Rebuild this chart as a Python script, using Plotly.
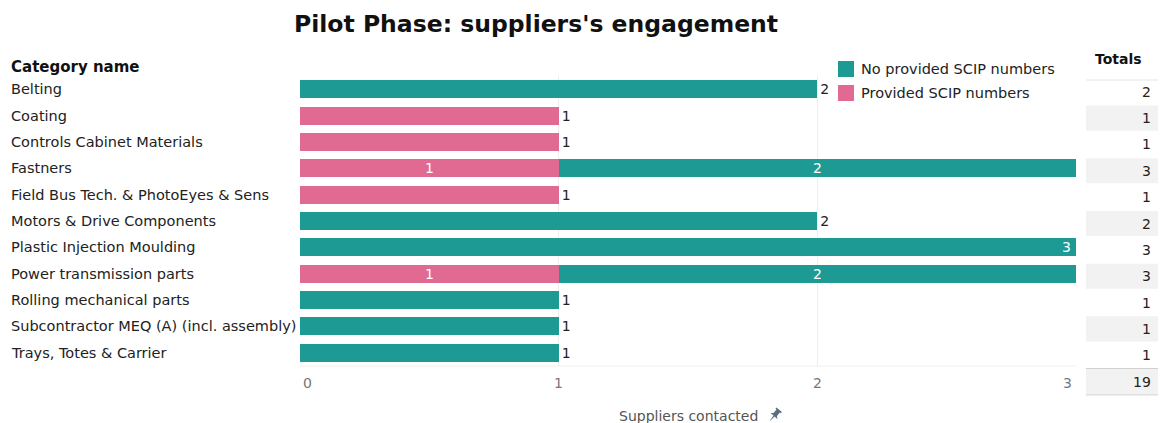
import math
import plotly.graph_objects as go

# ---- data ---------------------------------------------------------------
categories = [
    "Belting",
    "Coating",
    "Controls Cabinet Materials",
    "Fastners",
    "Field Bus Tech. & PhotoEyes & Sens",
    "Motors & Drive Components",
    "Plastic Injection Moulding",
    "Power transmission parts",
    "Rolling mechanical parts",
    "Subcontractor MEQ (A) (incl. assembly)",
    "Trays, Totes & Carrier",
]
provided_scip = [0, 1, 1, 1, 1, 0, 0, 1, 0, 0, 0]
no_provided_scip = [2, 0, 0, 2, 0, 2, 3, 2, 1, 1, 1]
x_ticks = [0, 1, 2, 3]

TEAL = "#1d9a93"
PINK = "#e06a91"
FONT = "DejaVu Sans"
TEXT = "#222222"

W, H = 1161, 423
L, R, T, B = 300, 1076, 76, 366  # plot area in pixels
x_max = max(x_ticks)
n = len(categories)
totals = [a + b for a, b in zip(provided_scip, no_provided_scip)]


def px(x):
    return (x - L) / (R - L)


def py(y):
    return (B - y) / (B - T)


def row_y(i):
    return T + (B - T) * (i + 0.5) / n


# stacked rows get centred labels inside, single bars get them outside
def positions(vals, other):
    pos = []
    for v, o in zip(vals, other):
        if v == 0:
            pos.append("none")
        elif o > 0:
            pos.append("inside")
        else:
            pos.append("outside")
    return pos


fig = go.Figure()
fig.add_trace(go.Bar(
    y=categories, x=provided_scip, orientation="h", name="Provided SCIP numbers",
    marker=dict(color=PINK, line=dict(width=0)),
    text=[str(v) if v else "" for v in provided_scip],
    textposition=positions(provided_scip, no_provided_scip),
    textangle=0, insidetextanchor="middle", constraintext="none",
    insidetextfont=dict(color="white", size=14, family=FONT),
    outsidetextfont=dict(color=TEXT, size=14, family=FONT),
    hoverinfo="x+y", showlegend=False,
))

# bars that run to the end of the axis get their label at the tip instead
teal_text, teal_pos = [], []
for v, o in zip(no_provided_scip, provided_scip):
    if v == 0 or (o == 0 and v >= x_max):
        teal_text.append("")
        teal_pos.append("none")
    else:
        teal_text.append(str(v))
        teal_pos.append("inside" if o > 0 else "outside")

fig.add_trace(go.Bar(
    y=categories, x=no_provided_scip, orientation="h", name="No provided SCIP numbers",
    marker=dict(color=TEAL, line=dict(width=0)),
    text=teal_text, textposition=teal_pos,
    textangle=0, insidetextanchor="middle", constraintext="none",
    insidetextfont=dict(color="white", size=14, family=FONT),
    outsidetextfont=dict(color=TEXT, size=14, family=FONT),
    hoverinfo="x+y", showlegend=False,
))

annotations = []
shapes = []

for c, v, o in zip(categories, no_provided_scip, provided_scip):
    if o == 0 and v >= x_max:
        annotations.append(dict(x=v, y=c, xref="x", yref="y", text=str(v),
                                showarrow=False, xanchor="right", xshift=-3,
                                font=dict(color="white", size=14, family=FONT)))

# x tick labels: end labels are kept inside the plot width
for k, tv in enumerate(x_ticks):
    anchor = "left" if k == 0 else ("right" if k == len(x_ticks) - 1 else "center")
    shift = 1 if k == 0 else (-2 if k == len(x_ticks) - 1 else 0)
    annotations.append(dict(x=tv, y=py(383), xref="x", yref="paper", text=str(tv),
                            showarrow=False, xanchor=anchor, yanchor="middle",
                            xshift=shift,
                            font=dict(color="#777777", size=14, family=FONT)))

# left-aligned category names
for i, c in enumerate(categories):
    annotations.append(dict(x=px(9), y=c, xref="paper", yref="y", text=c,
                            showarrow=False, xanchor="left",
                            font=dict(color=TEXT, size=14.5, family=FONT)))
annotations.append(dict(x=px(9), y=py(67), xref="paper", yref="paper",
                        text="<b>Category name</b>", showarrow=False,
                        xanchor="left", yanchor="middle",
                        font=dict(color="#111111", size=15, family=FONT)))

# title
annotations.append(dict(x=px(536), y=py(24), xref="paper", yref="paper",
                        text="<b>Pilot Phase: suppliers's engagement</b>",
                        showarrow=False, xanchor="center", yanchor="middle",
                        font=dict(color="#111111", size=23.5, family=FONT)))

# axis title
annotations.append(dict(x=px(688), y=py(416), xref="paper", yref="paper",
                        text="Suppliers contacted", showarrow=False,
                        xanchor="center", yanchor="middle",
                        font=dict(color="#555555", size=14, family=FONT)))

# small pushpin next to the axis title
pin_local = [(-3.5, -8), (3.5, -8), (3.5, -6.5), (2.2, -6.5), (2.2, -2),
             (4.5, 0), (0.6, 0), (0.2, 6), (-0.2, 6), (-0.6, 0), (-4.5, 0),
             (-2.2, -2), (-2.2, -6.5), (-3.5, -6.5)]
ang = math.radians(40)
cx, cy = 774, 416
pts = []
for lx, ly in pin_local:
    rx = lx * math.cos(ang) - ly * math.sin(ang)
    ry = lx * math.sin(ang) + ly * math.cos(ang)
    pts.append((px(cx + rx), py(cy + ry)))
path = "M " + " L ".join(f"{a:.5f},{b:.5f}" for a, b in pts) + " Z"
shapes.append(dict(type="path", path=path, xref="paper", yref="paper",
                   fillcolor="#5b6b80", line=dict(width=0)))

# legend, drawn by hand
for k, (label, col) in enumerate([("No provided SCIP numbers", TEAL),
                                  ("Provided SCIP numbers", PINK)]):
    yc = 69 + 24 * k
    shapes.append(dict(type="rect", xref="paper", yref="paper",
                       x0=px(838), x1=px(854), y0=py(yc - 8), y1=py(yc + 8),
                       fillcolor=col, line=dict(width=0)))
    annotations.append(dict(x=px(859), y=py(yc), xref="paper", yref="paper",
                            text=label, showarrow=False, xanchor="left",
                            yanchor="middle",
                            font=dict(color=TEXT, size=14.5, family=FONT)))

# totals column
TX0, TX1 = 1086, 1158
annotations.append(dict(x=px(1118), y=py(59), xref="paper", yref="paper",
                        text="<b>Totals</b>", showarrow=False,
                        xanchor="center", yanchor="middle",
                        font=dict(color="#111111", size=14, family=FONT)))
shapes.append(dict(type="line", xref="paper", yref="paper",
                   x0=px(TX0), x1=px(TX1), y0=py(80), y1=py(80),
                   line=dict(color="#e6e6e6", width=1)))
row_h = (B - T) / n
for i, t in enumerate(totals + [sum(totals)]):
    yc = row_y(i) + 2.5
    if i % 2 == 1 or i == n:
        shapes.append(dict(type="rect", xref="paper", yref="paper",
                           x0=px(TX0), x1=px(TX1),
                           y0=py(yc - row_h / 2 + 0.6), y1=py(yc + row_h / 2 - 0.6),
                           fillcolor="#f2f2f2", line=dict(width=0), layer="below"))
    annotations.append(dict(x=px(1153), y=py(yc), xref="paper", yref="paper",
                            text=str(t), showarrow=False, xanchor="right",
                            yanchor="middle",
                            font=dict(color=TEXT, size=14, family=FONT)))
for yl in (row_y(n) + 2.5 - row_h / 2, row_y(n) + 2.5 + row_h / 2):
    shapes.append(dict(type="line", xref="paper", yref="paper",
                       x0=px(TX0), x1=px(TX1), y0=py(yl), y1=py(yl),
                       line=dict(color="#d0d0d0", width=1)))

# bottom edge of the plot area
shapes.append(dict(type="line", xref="paper", yref="paper",
                   x0=0, x1=1, y0=0, y1=0,
                   line=dict(color="#f0f0f0", width=1), layer="below"))

fig.update_layout(
    width=W, height=H,
    margin=dict(l=L, r=W - R, t=T, b=H - B, pad=0),
    barmode="stack", bargap=0.32,
    plot_bgcolor="white", paper_bgcolor="white",
    font=dict(family=FONT, size=14, color=TEXT),
    showlegend=False,
    xaxis=dict(range=[0, x_max], tickvals=x_ticks, showgrid=True,
               gridcolor="#eeeeee", gridwidth=1, zeroline=False,
               showline=False, ticks="", showticklabels=False),
    yaxis=dict(categoryorder="array", categoryarray=categories,
               autorange="reversed", showticklabels=False, showgrid=False,
               zeroline=False, showline=False),
    annotations=annotations, shapes=shapes,
)

fig.write_html("out.html")
